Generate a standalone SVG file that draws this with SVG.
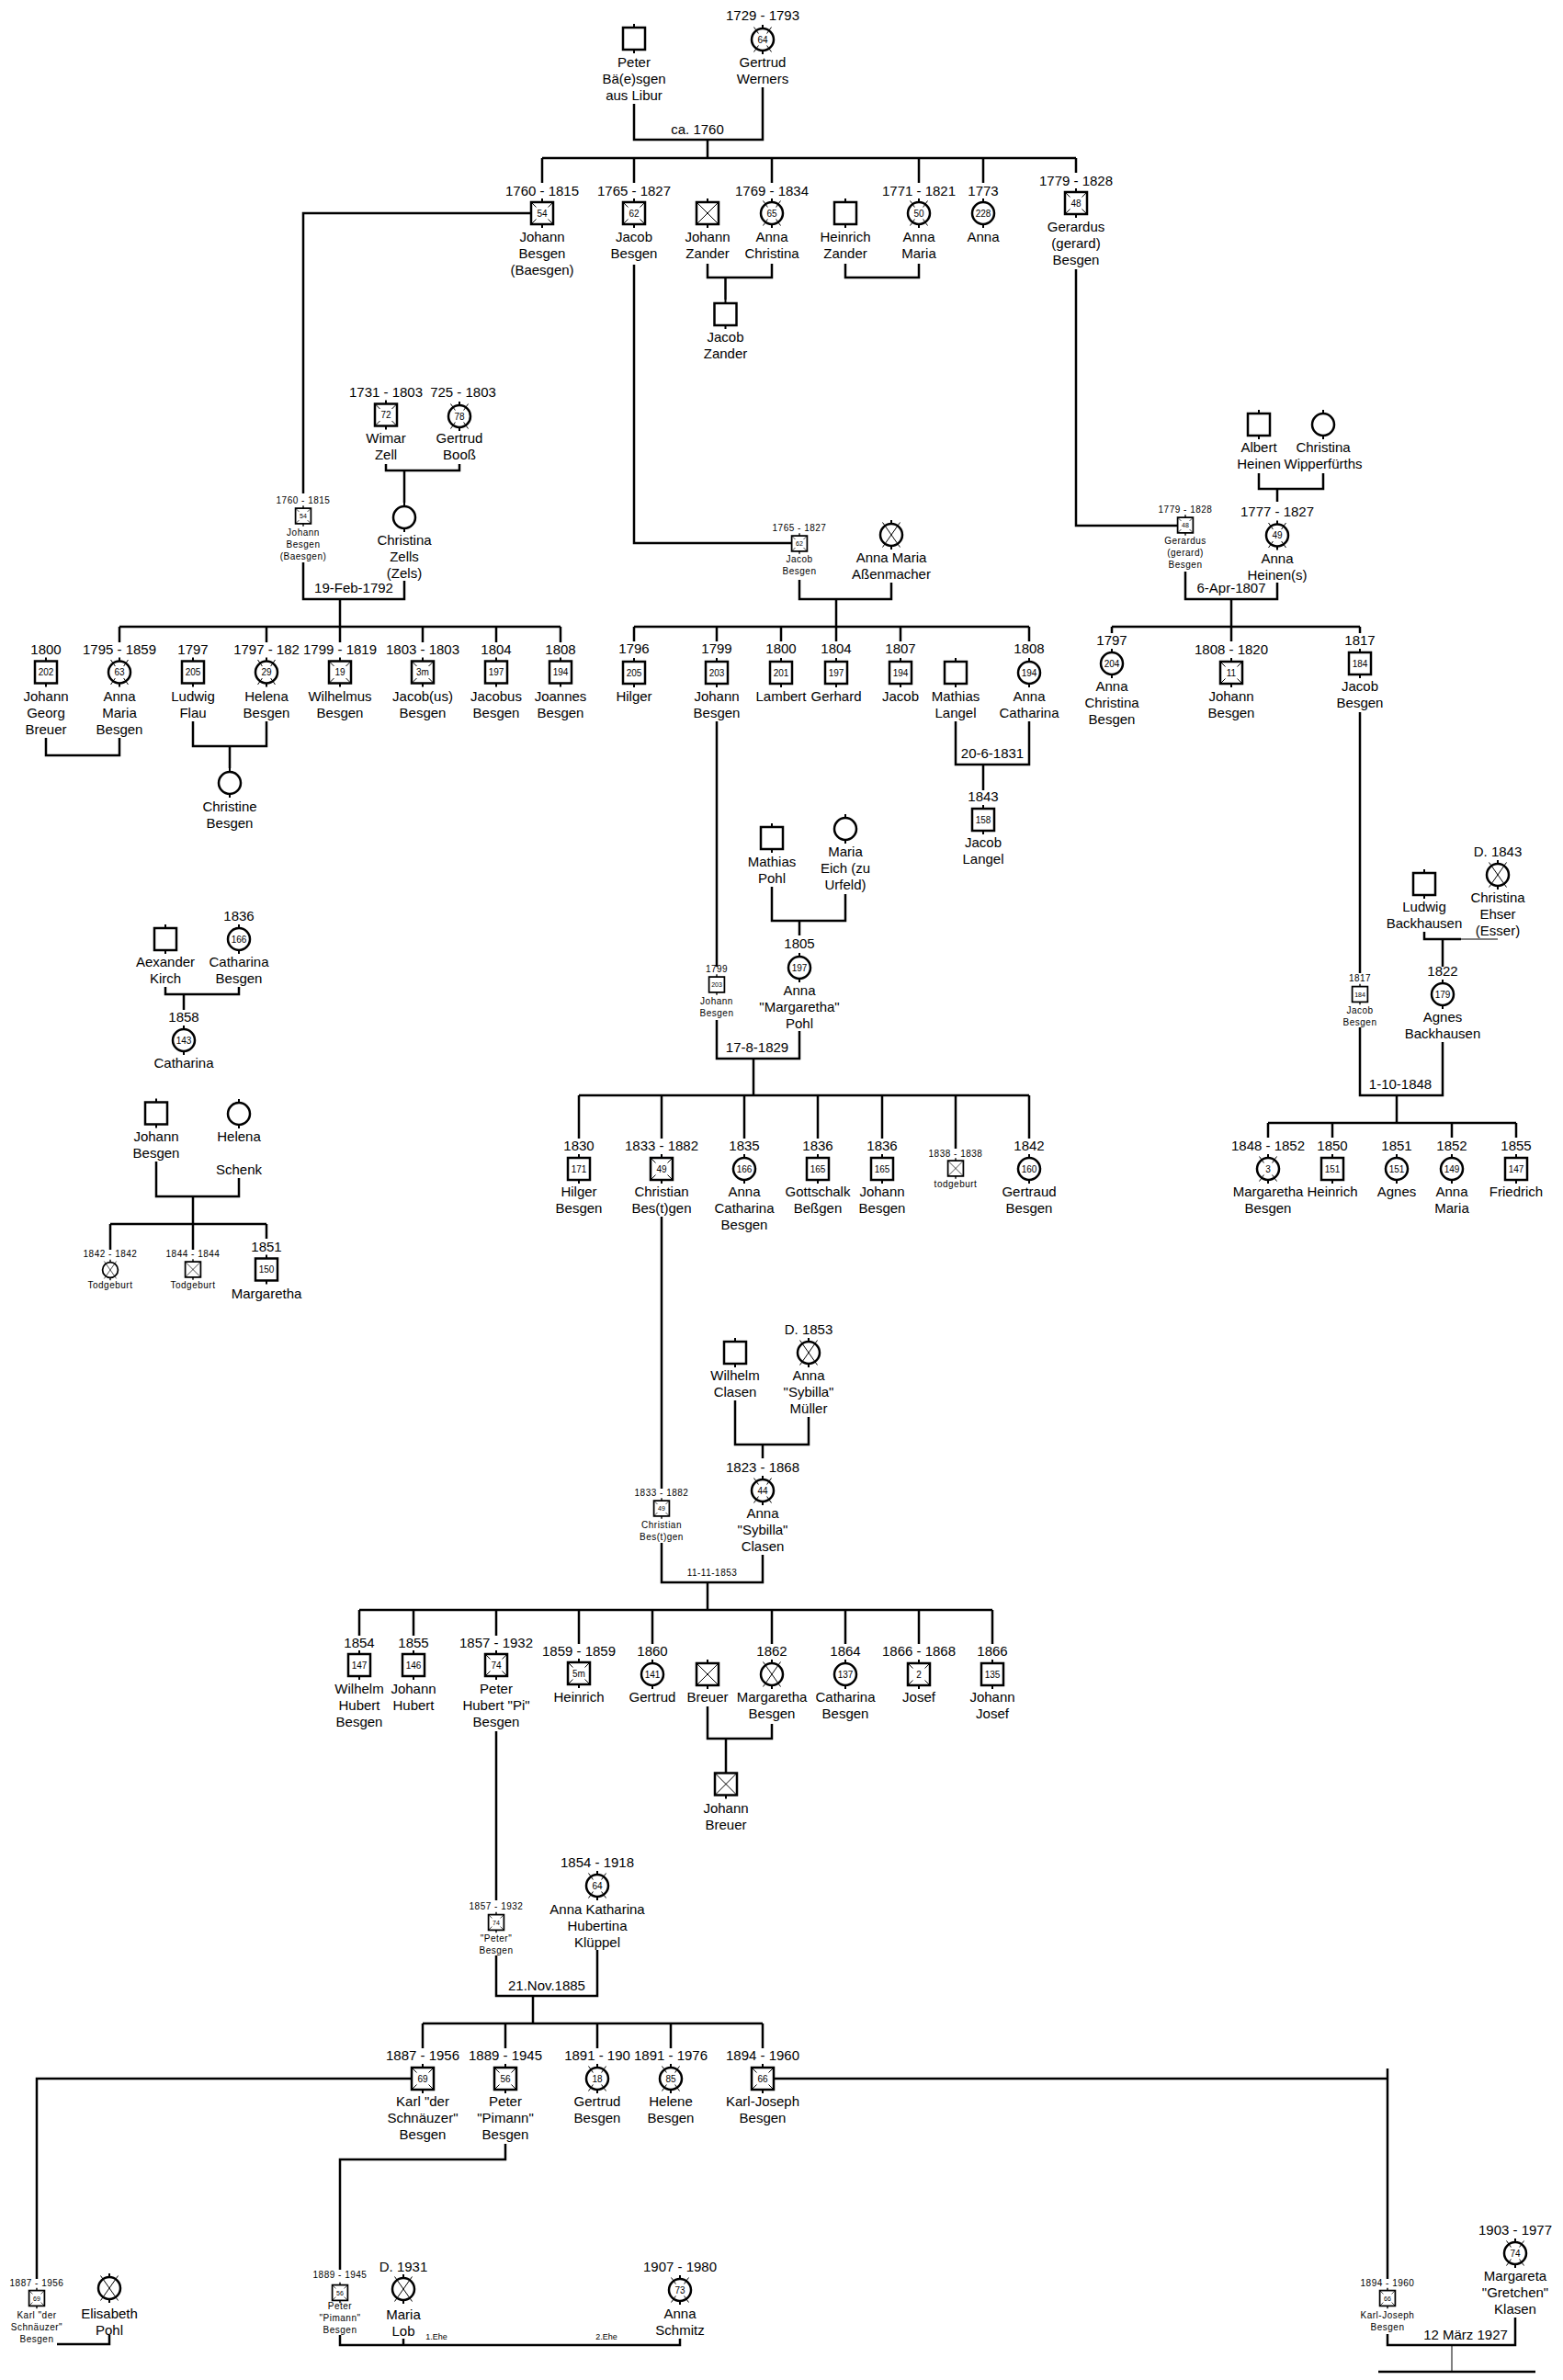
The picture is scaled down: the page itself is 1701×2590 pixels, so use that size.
<svg xmlns="http://www.w3.org/2000/svg" xmlns:xlink="http://www.w3.org/1999/xlink" width="1701" height="2590" viewBox="0 0 1701 2590">
<style>
text{font-family:"Liberation Sans",Arial,sans-serif;fill:#000;text-anchor:middle}
.t{font-size:15px}
.s{font-size:10px;letter-spacing:.5px}
.n{font-size:10px}
.sn{font-size:7px}
.e{font-size:9px}
.ln{fill:none;stroke:#000;stroke-width:2.5}
</style>
<defs>
<path id="st" d="M0-16V-12M0 12V16" stroke="#000" stroke-width="2"/>
<g id="M"><use href="#st"/><rect x="-12" y="-12" width="24" height="24" fill="#fff" stroke="#000" stroke-width="2.5"/></g>
<g id="F"><use href="#st"/><circle r="12" fill="#fff" stroke="#000" stroke-width="2.5"/></g>
<g id="MX"><use href="#M"/><path d="M-12-12L12 12M12-12L-12 12" stroke="#000" stroke-width="1"/></g>
<g id="FX"><use href="#F"/><path d="M-9.5-13.5L9.5 13.5M9.5-13.5L-9.5 13.5" stroke="#000" stroke-width="1"/></g>
<g id="MXn"><use href="#MX"/><rect x="-7.5" y="-6.5" width="15" height="13" fill="#fff"/></g>
<g id="FXn"><use href="#FX"/><circle r="8" fill="#fff"/></g>
</defs>
<rect width="1701" height="2590" fill="#fff"/>

<g id="connectors">
<path class="ln" d="M690 113V152H830V95M770 152V172M590 172H1171M590 172V199M690 172V199M840 172V199M1000 172V199M1070 172V199M1171 172V188
M578 232H330V537M690 288V591H862M770 287V302H840V287M789.5 302V326M920 287V302H1000V287M1171 293V572H1282
M420 505V512H500V505M440 512V547M330 612V652H440V632M370 652V682
M130 682H610M130 682V699M290 682V699M370 682V699M460 682V699M540 682V699M610 682V699
M50 803V822H130V803M210 785V812H290V785M250 812V836
M870 631V652H970V634M910 652V682M690 682H1120M690 682V698M780 682V698M850 682V698M910 682V698M980 682V698M1120 682V698
M1040 785V832H1120V785M1070 832V860M780 785V1052
M840 965V1002H920V973M870 1002V1018M780 1110V1152H870V1122M820 1152V1192
M630 1192H1120M630 1192V1239M720 1192V1239M810 1192V1239M890 1192V1239M960 1192V1239M1040 1192V1250M1120 1192V1239
M720 1324V1620
M1370 515V532H1440V515M1390 532V546M1290 622V652H1390V634M1340 652V698M1210 682H1480M1210 682V689M1480 682V689
M1480 775V1059M1550 1014V1022H1590M1570 1022V1052M1480 1118V1192H1570V1134M1520 1192V1222
M1380 1222H1650M1380 1222V1238M1450 1222V1238M1580 1222V1238M1650 1222V1238
M180 1074V1082H260V1074M200 1082V1099M170 1264V1302H260V1282M210 1302V1360M120 1332H290M120 1332V1360M290 1332V1348
M800 1524V1572H880V1542M830 1572V1587M720 1679V1722H830V1692M770 1722V1752
M391 1752H1080M391 1752V1780M450 1752V1780M540 1752V1780M630 1752V1789M710 1752V1789M840 1752V1789M920 1752V1789M1000 1752V1789M1080 1752V1789
M770 1857V1892H840V1876M790 1892V1929M540 1884V2068
M540 2128V2172H650V2122M580 2172V2202M460 2202H830M460 2202V2229M550 2202V2229M650 2202V2229M730 2202V2229M830 2202V2229
M448 2262H40V2480M550 2333V2350H370V2470M842 2262H1510M1510 2251V2480
M62 2551H119V2541M370 2541V2552H740V2545M439 2545V2552M1510 2540V2552H1649V2522M1500 2581H1671"/>
<path d="M1590 1022H1630M1580 2552V2581" fill="none" stroke="#000" stroke-width="1"/>
<text class="t" x="759" y="146">ca. 1760</text>
<text class="t" x="385" y="645">19-Feb-1792</text>
<text class="t" x="1080" y="825">20-6-1831</text>
<text class="t" x="824" y="1145">17-8-1829</text>
<text class="t" x="1340" y="645">6-Apr-1807</text>
<text class="t" x="1524" y="1185">1-10-1848</text>
<text class="s" x="775" y="1715">11-11-1853</text>
<text class="t" x="595" y="2166">21.Nov.1885</text>
<text class="e" x="475" y="2546">1.Ehe</text>
<text class="e" x="660" y="2546">2.Ehe</text>
<text class="t" x="1595" y="2546">12 März 1927</text>
</g>

<g id="n-peter-baesgen"><use href="#M" x="690" y="42"/><text class="t" x="690" y="73">Peter<tspan x="690" dy="18">Bä(e)sgen</tspan><tspan x="690" dy="18">aus Libur</tspan></text></g>
<g id="n-gertrud-werners"><text class="t" x="830" y="22">1729 - 1793</text><use href="#FXn" x="830" y="43"/><text class="n" x="830" y="46.5">64</text><text class="t" x="830" y="73">Gertrud<tspan x="830" dy="18">Werners</tspan></text></g>

<g id="n-johann-besgen-1760"><text class="t" x="590" y="213">1760 - 1815</text><use href="#MXn" x="590" y="232"/><text class="n" x="590" y="235.5">54</text><text class="t" x="590" y="263">Johann<tspan x="590" dy="18">Besgen</tspan><tspan x="590" dy="18">(Baesgen)</tspan></text></g>
<g id="n-jacob-besgen-1765"><text class="t" x="690" y="213">1765 - 1827</text><use href="#MXn" x="690" y="232"/><text class="n" x="690" y="235.5">62</text><text class="t" x="690" y="263">Jacob<tspan x="690" dy="18">Besgen</tspan></text></g>
<g id="n-johann-zander"><use href="#MX" x="770" y="232"/><text class="t" x="770" y="263">Johann<tspan x="770" dy="18">Zander</tspan></text></g>
<g id="n-anna-christina"><text class="t" x="840" y="213">1769 - 1834</text><use href="#FXn" x="840" y="232"/><text class="n" x="840" y="235.5">65</text><text class="t" x="840" y="263">Anna<tspan x="840" dy="18">Christina</tspan></text></g>
<g id="n-heinrich-zander"><use href="#M" x="920" y="232"/><text class="t" x="920" y="263">Heinrich<tspan x="920" dy="18">Zander</tspan></text></g>
<g id="n-anna-maria-1771"><text class="t" x="1000" y="213">1771 - 1821</text><use href="#FXn" x="1000" y="232"/><text class="n" x="1000" y="235.5">50</text><text class="t" x="1000" y="263">Anna<tspan x="1000" dy="18">Maria</tspan></text></g>
<g id="n-anna-1773"><text class="t" x="1070" y="213">1773</text><use href="#F" x="1070" y="232"/><text class="n" x="1070" y="235.5">228</text><text class="t" x="1070" y="263">Anna</text></g>
<g id="n-gerardus-besgen"><text class="t" x="1171" y="202">1779 - 1828</text><use href="#MXn" x="1171" y="221"/><text class="n" x="1171" y="224.5">48</text><text class="t" x="1171" y="252">Gerardus<tspan x="1171" dy="18">(gerard)</tspan><tspan x="1171" dy="18">Besgen</tspan></text></g>
<g id="n-jacob-zander"><use href="#M" x="789.5" y="342"/><text class="t" x="789.5" y="372">Jacob<tspan x="789.5" dy="18">Zander</tspan></text></g>

<g id="n-wimar-zell"><text class="t" x="420" y="432">1731 - 1803</text><use href="#MXn" x="420" y="451.5"/><text class="n" x="420" y="455">72</text><text class="t" x="420" y="482">Wimar<tspan x="420" dy="18">Zell</tspan></text></g>
<g id="n-gertrud-booss"><text class="t" x="504" y="432">725 - 1803</text><use href="#FXn" x="500" y="453"/><text class="n" x="500" y="456.5">78</text><text class="t" x="500" y="482">Gertrud<tspan x="500" dy="18">Booß</tspan></text></g>
<g id="n-christina-zells"><use href="#F" x="440" y="563"/><text class="t" x="440" y="593">Christina<tspan x="440" dy="18">Zells</tspan><tspan x="440" dy="18">(Zels)</tspan></text></g>
<g id="n-johann-besgen-1760-b"><text class="s" x="330" y="547.5">1760 - 1815</text><use href="#MXn" transform="translate(330 561.5) scale(.7)"/><text class="sn" x="330" y="564">54</text><text class="s" x="330" y="582.5">Johann<tspan x="330" dy="13">Besgen</tspan><tspan x="330" dy="13">(Baesgen)</tspan></text></g>

<g id="n-johann-georg-breuer"><text class="t" x="50" y="712">1800</text><use href="#M" x="50" y="731.5"/><text class="n" x="50" y="735">202</text><text class="t" x="50" y="763">Johann<tspan x="50" dy="18">Georg</tspan><tspan x="50" dy="18">Breuer</tspan></text></g>
<g id="n-anna-maria-besgen"><text class="t" x="130" y="712">1795 - 1859</text><use href="#FXn" x="130" y="731.5"/><text class="n" x="130" y="735">63</text><text class="t" x="130" y="763">Anna<tspan x="130" dy="18">Maria</tspan><tspan x="130" dy="18">Besgen</tspan></text></g>
<g id="n-ludwig-flau"><text class="t" x="210" y="712">1797</text><use href="#M" x="210" y="731.5"/><text class="n" x="210" y="735">205</text><text class="t" x="210" y="763">Ludwig<tspan x="210" dy="18">Flau</tspan></text></g>
<g id="n-helena-besgen"><text class="t" x="290" y="712">1797 - 182</text><use href="#FXn" x="290" y="731.5"/><text class="n" x="290" y="735">29</text><text class="t" x="290" y="763">Helena<tspan x="290" dy="18">Besgen</tspan></text></g>
<g id="n-wilhelmus-besgen"><text class="t" x="370" y="712">1799 - 1819</text><use href="#MXn" x="370" y="731.5"/><text class="n" x="370" y="735">19</text><text class="t" x="370" y="763">Wilhelmus<tspan x="370" dy="18">Besgen</tspan></text></g>
<g id="n-jacobus-1803"><text class="t" x="460" y="712">1803 - 1803</text><use href="#MXn" x="460" y="731.5"/><text class="n" x="460" y="735">3m</text><text class="t" x="460" y="763">Jacob(us)<tspan x="460" dy="18">Besgen</tspan></text></g>
<g id="n-jacobus-besgen"><text class="t" x="540" y="712">1804</text><use href="#M" x="540" y="731.5"/><text class="n" x="540" y="735">197</text><text class="t" x="540" y="763">Jacobus<tspan x="540" dy="18">Besgen</tspan></text></g>
<g id="n-joannes-besgen"><text class="t" x="610" y="712">1808</text><use href="#M" x="610" y="731.5"/><text class="n" x="610" y="735">194</text><text class="t" x="610" y="763">Joannes<tspan x="610" dy="18">Besgen</tspan></text></g>
<g id="n-christine-besgen"><use href="#F" x="250" y="852"/><text class="t" x="250" y="883">Christine<tspan x="250" dy="18">Besgen</tspan></text></g>

<g id="n-jacob-besgen-1765-b"><text class="s" x="870" y="578">1765 - 1827</text><use href="#MXn" transform="translate(870 591.5) scale(.7)"/><text class="sn" x="870" y="594">62</text><text class="s" x="870" y="612">Jacob<tspan x="870" dy="13">Besgen</tspan></text></g>
<g id="n-anna-maria-assenmacher"><use href="#FX" x="970" y="582"/><text class="t" x="970" y="612">Anna Maria<tspan x="970" dy="18">Aßenmacher</tspan></text></g>
<g id="n-hilger-1796"><text class="t" x="690" y="711">1796</text><use href="#M" x="690" y="732"/><text class="n" x="690" y="735.5">205</text><text class="t" x="690" y="763">Hilger</text></g>
<g id="n-johann-besgen-1799"><text class="t" x="780" y="711">1799</text><use href="#M" x="780" y="732"/><text class="n" x="780" y="735.5">203</text><text class="t" x="780" y="763">Johann<tspan x="780" dy="18">Besgen</tspan></text></g>
<g id="n-lambert"><text class="t" x="850" y="711">1800</text><use href="#M" x="850" y="732"/><text class="n" x="850" y="735.5">201</text><text class="t" x="850" y="763">Lambert</text></g>
<g id="n-gerhard"><text class="t" x="910" y="711">1804</text><use href="#M" x="910" y="732"/><text class="n" x="910" y="735.5">197</text><text class="t" x="910" y="763">Gerhard</text></g>
<g id="n-jacob-1807"><text class="t" x="980" y="711">1807</text><use href="#M" x="980" y="732"/><text class="n" x="980" y="735.5">194</text><text class="t" x="980" y="763">Jacob</text></g>
<g id="n-mathias-langel"><use href="#M" x="1040" y="732"/><text class="t" x="1040" y="763">Mathias<tspan x="1040" dy="18">Langel</tspan></text></g>
<g id="n-anna-catharina-1808"><text class="t" x="1120" y="711">1808</text><use href="#F" x="1120" y="732"/><text class="n" x="1120" y="735.5">194</text><text class="t" x="1120" y="763">Anna<tspan x="1120" dy="18">Catharina</tspan></text></g>
<g id="n-jacob-langel"><text class="t" x="1070" y="872">1843</text><use href="#M" x="1070" y="892"/><text class="n" x="1070" y="895.5">158</text><text class="t" x="1070" y="922">Jacob<tspan x="1070" dy="18">Langel</tspan></text></g>

<g id="n-mathias-pohl"><use href="#M" x="840" y="912"/><text class="t" x="840" y="943">Mathias<tspan x="840" dy="18">Pohl</tspan></text></g>
<g id="n-maria-eich"><use href="#F" x="920" y="902"/><text class="t" x="920" y="932">Maria<tspan x="920" dy="18">Eich (zu</tspan><tspan x="920" dy="18">Urfeld)</tspan></text></g>
<g id="n-anna-margaretha-pohl"><text class="t" x="870" y="1032">1805</text><use href="#F" x="870" y="1053"/><text class="n" x="870" y="1056.5">197</text><text class="t" x="870" y="1083">Anna<tspan x="870" dy="18">"Margaretha"</tspan><tspan x="870" dy="18">Pohl</tspan></text></g>
<g id="n-johann-besgen-1799-b"><text class="s" x="780" y="1057.5">1799</text><use href="#M" transform="translate(780 1071.5) scale(.7)"/><text class="sn" x="780" y="1074">203</text><text class="s" x="780" y="1092.5">Johann<tspan x="780" dy="13">Besgen</tspan></text></g>

<g id="n-hilger-besgen"><text class="t" x="630" y="1252">1830</text><use href="#M" x="630" y="1272"/><text class="n" x="630" y="1275.5">171</text><text class="t" x="630" y="1302">Hilger<tspan x="630" dy="18">Besgen</tspan></text></g>
<g id="n-christian-besgen"><text class="t" x="720" y="1252">1833 - 1882</text><use href="#MXn" x="720" y="1272"/><text class="n" x="720" y="1275.5">49</text><text class="t" x="720" y="1302">Christian<tspan x="720" dy="18">Bes(t)gen</tspan></text></g>
<g id="n-anna-catharina-besgen"><text class="t" x="810" y="1252">1835</text><use href="#F" x="810" y="1272"/><text class="n" x="810" y="1275.5">166</text><text class="t" x="810" y="1302">Anna<tspan x="810" dy="18">Catharina</tspan><tspan x="810" dy="18">Besgen</tspan></text></g>
<g id="n-gottschalk"><text class="t" x="890" y="1252">1836</text><use href="#M" x="890" y="1272"/><text class="n" x="890" y="1275.5">165</text><text class="t" x="890" y="1302">Gottschalk<tspan x="890" dy="18">Beßgen</tspan></text></g>
<g id="n-johann-besgen-1836"><text class="t" x="960" y="1252">1836</text><use href="#M" x="960" y="1272"/><text class="n" x="960" y="1275.5">165</text><text class="t" x="960" y="1302">Johann<tspan x="960" dy="18">Besgen</tspan></text></g>
<g id="n-todgeburt-1838"><text class="s" x="1040" y="1258.5">1838 - 1838</text><use href="#MX" transform="translate(1040 1271.5) scale(.7)"/><text class="s" x="1040" y="1291.5">todgeburt</text></g>
<g id="n-gertraud-besgen"><text class="t" x="1120" y="1252">1842</text><use href="#F" x="1120" y="1272"/><text class="n" x="1120" y="1275.5">160</text><text class="t" x="1120" y="1302">Gertraud<tspan x="1120" dy="18">Besgen</tspan></text></g>

<g id="n-gerardus-besgen-b"><text class="s" x="1290" y="558">1779 - 1828</text><use href="#MXn" transform="translate(1290 571.5) scale(.7)"/><text class="sn" x="1290" y="574">48</text><text class="s" x="1290" y="591.5">Gerardus<tspan x="1290" dy="13">(gerard)</tspan><tspan x="1290" dy="13">Besgen</tspan></text></g>
<g id="n-albert-heinen"><use href="#M" x="1370" y="462"/><text class="t" x="1370" y="492">Albert<tspan x="1370" dy="18">Heinen</tspan></text></g>
<g id="n-christina-wipperfuerths"><use href="#F" x="1440" y="462"/><text class="t" x="1440" y="492">Christina<tspan x="1440" dy="18">Wipperfürths</tspan></text></g>
<g id="n-anna-heinen"><text class="t" x="1390" y="562">1777 - 1827</text><use href="#FXn" x="1390" y="582.5"/><text class="n" x="1390" y="586">49</text><text class="t" x="1390" y="613">Anna<tspan x="1390" dy="18">Heinen(s)</tspan></text></g>
<g id="n-anna-christina-besgen"><text class="t" x="1210" y="701.5">1797</text><use href="#F" x="1210" y="722"/><text class="n" x="1210" y="725.5">204</text><text class="t" x="1210" y="752">Anna<tspan x="1210" dy="18">Christina</tspan><tspan x="1210" dy="18">Besgen</tspan></text></g>
<g id="n-johann-besgen-1808"><text class="t" x="1340" y="712">1808 - 1820</text><use href="#MXn" x="1340" y="732"/><text class="n" x="1340" y="735.5">11</text><text class="t" x="1340" y="763">Johann<tspan x="1340" dy="18">Besgen</tspan></text></g>
<g id="n-jacob-besgen-1817"><text class="t" x="1480" y="701.5">1817</text><use href="#M" x="1480" y="722"/><text class="n" x="1480" y="725.5">184</text><text class="t" x="1480" y="752">Jacob<tspan x="1480" dy="18">Besgen</tspan></text></g>
<g id="n-jacob-besgen-1817-b"><text class="s" x="1480" y="1067.5">1817</text><use href="#M" transform="translate(1480 1082) scale(.7)"/><text class="sn" x="1480" y="1084.5">184</text><text class="s" x="1480" y="1102.5">Jacob<tspan x="1480" dy="13">Besgen</tspan></text></g>
<g id="n-ludwig-backhausen"><use href="#M" x="1550" y="962"/><text class="t" x="1550" y="992">Ludwig<tspan x="1550" dy="18">Backhausen</tspan></text></g>
<g id="n-christina-ehser"><text class="t" x="1630" y="932">D. 1843</text><use href="#FX" x="1630" y="952"/><text class="t" x="1630" y="982">Christina<tspan x="1630" dy="18">Ehser</tspan><tspan x="1630" dy="18">(Esser)</tspan></text></g>
<g id="n-agnes-backhausen"><text class="t" x="1570" y="1062">1822</text><use href="#F" x="1570" y="1082"/><text class="n" x="1570" y="1085.5">179</text><text class="t" x="1570" y="1112">Agnes<tspan x="1570" dy="18">Backhausen</tspan></text></g>
<g id="n-margaretha-besgen-1848"><text class="t" x="1380" y="1252">1848 - 1852</text><use href="#FXn" x="1380" y="1272"/><text class="n" x="1380" y="1275.5">3</text><text class="t" x="1380" y="1302">Margaretha<tspan x="1380" dy="18">Besgen</tspan></text></g>
<g id="n-heinrich-1850"><text class="t" x="1450" y="1252">1850</text><use href="#M" x="1450" y="1272"/><text class="n" x="1450" y="1275.5">151</text><text class="t" x="1450" y="1302">Heinrich</text></g>
<g id="n-agnes-1851"><text class="t" x="1520" y="1252">1851</text><use href="#F" x="1520" y="1272"/><text class="n" x="1520" y="1275.5">151</text><text class="t" x="1520" y="1302">Agnes</text></g>
<g id="n-anna-maria-1852"><text class="t" x="1580" y="1252">1852</text><use href="#F" x="1580" y="1272"/><text class="n" x="1580" y="1275.5">149</text><text class="t" x="1580" y="1302">Anna<tspan x="1580" dy="18">Maria</tspan></text></g>
<g id="n-friedrich"><text class="t" x="1650" y="1252">1855</text><use href="#M" x="1650" y="1272"/><text class="n" x="1650" y="1275.5">147</text><text class="t" x="1650" y="1302">Friedrich</text></g>

<g id="n-aexander-kirch"><use href="#M" x="180" y="1022"/><text class="t" x="180" y="1052">Aexander<tspan x="180" dy="18">Kirch</tspan></text></g>
<g id="n-catharina-besgen-1836"><text class="t" x="260" y="1002">1836</text><use href="#F" x="260" y="1022"/><text class="n" x="260" y="1025.5">166</text><text class="t" x="260" y="1052">Catharina<tspan x="260" dy="18">Besgen</tspan></text></g>
<g id="n-catharina-1858"><text class="t" x="200" y="1112">1858</text><use href="#F" x="200" y="1132"/><text class="n" x="200" y="1135.5">143</text><text class="t" x="200" y="1162">Catharina</text></g>
<g id="n-johann-besgen-helena"><use href="#M" x="170" y="1211.5"/><text class="t" x="170" y="1242">Johann<tspan x="170" dy="18">Besgen</tspan></text></g>
<g id="n-helena-schenk"><use href="#F" x="260" y="1212"/><text class="t" x="260" y="1242">Helena</text><text class="t" x="260" y="1278">Schenk</text></g>
<g id="n-todgeburt-1842"><text class="s" x="120" y="1367.5">1842 - 1842</text><use href="#FX" transform="translate(120 1382) scale(.7)"/><text class="s" x="120" y="1402">Todgeburt</text></g>
<g id="n-todgeburt-1844"><text class="s" x="210" y="1367.5">1844 - 1844</text><use href="#MX" transform="translate(210 1381.5) scale(.7)"/><text class="s" x="210" y="1402">Todgeburt</text></g>
<g id="n-margaretha-1851"><text class="t" x="290" y="1362">1851</text><use href="#M" x="290" y="1381.5"/><text class="n" x="290" y="1385">150</text><text class="t" x="290" y="1413">Margaretha</text></g>

<g id="n-wilhelm-clasen"><use href="#M" x="800" y="1472"/><text class="t" x="800" y="1502">Wilhelm<tspan x="800" dy="18">Clasen</tspan></text></g>
<g id="n-anna-sybilla-mueller"><text class="t" x="880" y="1452">D. 1853</text><use href="#FX" x="880" y="1472"/><text class="t" x="880" y="1502">Anna<tspan x="880" dy="18">"Sybilla"</tspan><tspan x="880" dy="18">Müller</tspan></text></g>
<g id="n-anna-sybilla-clasen"><text class="t" x="830" y="1602">1823 - 1868</text><use href="#FXn" x="830" y="1622"/><text class="n" x="830" y="1625.5">44</text><text class="t" x="830" y="1652">Anna<tspan x="830" dy="18">"Sybilla"</tspan><tspan x="830" dy="18">Clasen</tspan></text></g>
<g id="n-christian-besgen-b"><text class="s" x="720" y="1627.5">1833 - 1882</text><use href="#MXn" transform="translate(720 1641.5) scale(.7)"/><text class="sn" x="720" y="1644">49</text><text class="s" x="720" y="1662.5">Christian<tspan x="720" dy="13">Bes(t)gen</tspan></text></g>

<g id="n-wilhelm-hubert"><text class="t" x="391" y="1793">1854</text><use href="#M" x="391" y="1812"/><text class="n" x="391" y="1815.5">147</text><text class="t" x="391" y="1843">Wilhelm<tspan x="391" dy="18">Hubert</tspan><tspan x="391" dy="18">Besgen</tspan></text></g>
<g id="n-johann-hubert"><text class="t" x="450" y="1793">1855</text><use href="#M" x="450" y="1812"/><text class="n" x="450" y="1815.5">146</text><text class="t" x="450" y="1843">Johann<tspan x="450" dy="18">Hubert</tspan></text></g>
<g id="n-peter-hubert"><text class="t" x="540" y="1793">1857 - 1932</text><use href="#MXn" x="540" y="1812"/><text class="n" x="540" y="1815.5">74</text><text class="t" x="540" y="1843">Peter<tspan x="540" dy="18">Hubert "Pi"</tspan><tspan x="540" dy="18">Besgen</tspan></text></g>
<g id="n-heinrich-1859"><text class="t" x="630" y="1802">1859 - 1859</text><use href="#MXn" x="630" y="1821"/><text class="n" x="630" y="1824.5">5m</text><text class="t" x="630" y="1852">Heinrich</text></g>
<g id="n-gertrud-1860"><text class="t" x="710" y="1802">1860</text><use href="#F" x="710" y="1822"/><text class="n" x="710" y="1825.5">141</text><text class="t" x="710" y="1852">Gertrud</text></g>
<g id="n-breuer"><use href="#MX" x="770" y="1822"/><text class="t" x="770" y="1852">Breuer</text></g>
<g id="n-margaretha-besgen-1862"><text class="t" x="840" y="1802">1862</text><use href="#FX" x="840" y="1822"/><text class="t" x="840" y="1852">Margaretha<tspan x="840" dy="18">Besgen</tspan></text></g>
<g id="n-catharina-besgen-1864"><text class="t" x="920" y="1802">1864</text><use href="#F" x="920" y="1822"/><text class="n" x="920" y="1825.5">137</text><text class="t" x="920" y="1852">Catharina<tspan x="920" dy="18">Besgen</tspan></text></g>
<g id="n-josef"><text class="t" x="1000" y="1802">1866 - 1868</text><use href="#MXn" x="1000" y="1822"/><text class="n" x="1000" y="1825.5">2</text><text class="t" x="1000" y="1852">Josef</text></g>
<g id="n-johann-josef"><text class="t" x="1080" y="1802">1866</text><use href="#M" x="1080" y="1822"/><text class="n" x="1080" y="1825.5">135</text><text class="t" x="1080" y="1852">Johann<tspan x="1080" dy="18">Josef</tspan></text></g>
<g id="n-johann-breuer"><use href="#MX" x="790" y="1941.5"/><text class="t" x="790" y="1973">Johann<tspan x="790" dy="18">Breuer</tspan></text></g>

<g id="n-peter-besgen-b"><text class="s" x="540" y="2077.5">1857 - 1932</text><use href="#MXn" transform="translate(540 2092) scale(.7)"/><text class="sn" x="540" y="2094.5">74</text><text class="s" x="540" y="2112.5">"Peter"<tspan x="540" dy="13">Besgen</tspan></text></g>
<g id="n-anna-katharina-klueppel"><text class="t" x="650" y="2032">1854 - 1918</text><use href="#FXn" x="650" y="2052"/><text class="n" x="650" y="2055.5">64</text><text class="t" x="650" y="2083">Anna Katharina<tspan x="650" dy="18">Hubertina</tspan><tspan x="650" dy="18">Klüppel</tspan></text></g>

<g id="n-karl-schnaeuzer"><text class="t" x="460" y="2242">1887 - 1956</text><use href="#MXn" x="460" y="2262"/><text class="n" x="460" y="2265.5">69</text><text class="t" x="460" y="2292">Karl "der<tspan x="460" dy="18">Schnäuzer"</tspan><tspan x="460" dy="18">Besgen</tspan></text></g>
<g id="n-peter-pimann"><text class="t" x="550" y="2242">1889 - 1945</text><use href="#MXn" x="550" y="2262"/><text class="n" x="550" y="2265.5">56</text><text class="t" x="550" y="2292">Peter<tspan x="550" dy="18">"Pimann"</tspan><tspan x="550" dy="18">Besgen</tspan></text></g>
<g id="n-gertrud-besgen-1891"><text class="t" x="650" y="2242">1891 - 190</text><use href="#FXn" x="650" y="2262"/><text class="n" x="650" y="2265.5">18</text><text class="t" x="650" y="2292">Gertrud<tspan x="650" dy="18">Besgen</tspan></text></g>
<g id="n-helene-besgen"><text class="t" x="730" y="2242">1891 - 1976</text><use href="#FXn" x="730" y="2262"/><text class="n" x="730" y="2265.5">85</text><text class="t" x="730" y="2292">Helene<tspan x="730" dy="18">Besgen</tspan></text></g>
<g id="n-karl-joseph"><text class="t" x="830" y="2242">1894 - 1960</text><use href="#MXn" x="830" y="2262"/><text class="n" x="830" y="2265.5">66</text><text class="t" x="830" y="2292">Karl-Joseph<tspan x="830" dy="18">Besgen</tspan></text></g>

<g id="n-karl-schnaeuzer-b"><text class="s" x="40" y="2488">1887 - 1956</text><use href="#MXn" transform="translate(40 2501) scale(.7)"/><text class="sn" x="40" y="2503.5">69</text><text class="s" x="40" y="2522.5">Karl "der<tspan x="40" dy="13">Schnäuzer"</tspan><tspan x="40" dy="13">Besgen</tspan></text></g>
<g id="n-elisabeth-pohl"><use href="#FX" x="119" y="2490"/><text class="t" x="119" y="2523">Elisabeth<tspan x="119" dy="18">Pohl</tspan></text></g>
<g id="n-peter-pimann-b"><text class="s" x="370" y="2478.5">1889 - 1945</text><use href="#MXn" transform="translate(370 2495) scale(.7)"/><text class="sn" x="370" y="2497.5">56</text><text class="s" x="370" y="2512.5">Peter<tspan x="370" dy="13">"Pimann"</tspan><tspan x="370" dy="13">Besgen</tspan></text></g>
<g id="n-maria-lob"><text class="t" x="439" y="2472">D. 1931</text><use href="#FX" x="439" y="2491"/><text class="t" x="439" y="2524">Maria<tspan x="439" dy="18">Lob</tspan></text></g>
<g id="n-anna-schmitz"><text class="t" x="740" y="2472">1907 - 1980</text><use href="#FXn" x="740" y="2492"/><text class="n" x="740" y="2495.5">73</text><text class="t" x="740" y="2523">Anna<tspan x="740" dy="18">Schmitz</tspan></text></g>
<g id="n-karl-joseph-b"><text class="s" x="1510" y="2488">1894 - 1960</text><use href="#MXn" transform="translate(1510 2501) scale(.7)"/><text class="sn" x="1510" y="2503.5">66</text><text class="s" x="1510" y="2522.5">Karl-Joseph<tspan x="1510" dy="13">Besgen</tspan></text></g>
<g id="n-margareta-klasen"><text class="t" x="1649" y="2432">1903 - 1977</text><use href="#FXn" x="1649" y="2452"/><text class="n" x="1649" y="2455.5">74</text><text class="t" x="1649" y="2482">Margareta<tspan x="1649" dy="18">"Gretchen"</tspan><tspan x="1649" dy="18">Klasen</tspan></text></g>
</svg>
